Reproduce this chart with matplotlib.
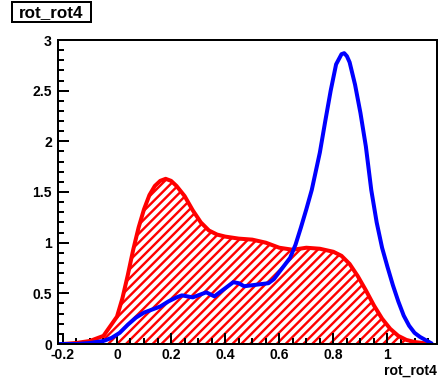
"""ROOT-style overlay of two smoothed distributions of rot_rot4."""

import matplotlib
matplotlib.use("Agg")
import matplotlib.pyplot as plt
from matplotlib.patches import Rectangle
from matplotlib.ticker import MultipleLocator

# red (hatched) distribution
red_x = [-0.20, -0.15, -0.10, -0.05, 0.00, 0.02, 0.04, 0.06, 0.08, 0.10, 0.12, 0.14, 0.16,
         0.18, 0.20, 0.22, 0.25, 0.28, 0.31, 0.34, 0.37, 0.40, 0.45, 0.50, 0.55, 0.60,
         0.65, 0.70, 0.75, 0.80, 0.83, 0.86, 0.89, 0.92, 0.95, 0.98, 1.01, 1.04, 1.07,
         1.10, 1.13, 1.16]
red_y = [0.00, 0.01, 0.03, 0.08, 0.27, 0.45, 0.68, 0.93, 1.15, 1.33, 1.47, 1.56, 1.61,
         1.63, 1.61, 1.56, 1.46, 1.32, 1.20, 1.12, 1.08, 1.06, 1.04, 1.03, 1.00, 0.95,
         0.93, 0.95, 0.94, 0.91, 0.87, 0.79, 0.67, 0.53, 0.38, 0.25, 0.15, 0.08, 0.04,
         0.02, 0.01, 0.00]

# blue distribution
blue_x = [-0.21, -0.15, -0.10, -0.05, -0.02, 0.01, 0.04, 0.07, 0.10, 0.13, 0.16, 0.19, 0.22,
          0.24, 0.26, 0.28, 0.31, 0.33, 0.36, 0.38, 0.40, 0.43, 0.45, 0.47, 0.50, 0.53,
          0.56, 0.58, 0.60, 0.62, 0.64, 0.66, 0.68, 0.70, 0.72, 0.75, 0.77, 0.79, 0.81,
          0.83, 0.84, 0.85, 0.86, 0.88, 0.90, 0.92, 0.94, 0.96, 0.98, 1.00, 1.02, 1.04,
          1.06, 1.08, 1.10, 1.12, 1.14, 1.16]
blue_y = [0.00, 0.00, 0.01, 0.03, 0.06, 0.11, 0.19, 0.26, 0.31, 0.34, 0.37, 0.42, 0.46,
          0.48, 0.47, 0.46, 0.49, 0.51, 0.47, 0.51, 0.55, 0.61, 0.60, 0.57, 0.58, 0.59,
          0.60, 0.64, 0.71, 0.78, 0.85, 0.98, 1.15, 1.33, 1.52, 1.89, 2.20, 2.50, 2.76,
          2.86, 2.87, 2.84, 2.78, 2.56, 2.28, 1.95, 1.52, 1.20, 0.95, 0.76, 0.58, 0.42,
          0.28, 0.18, 0.11, 0.07, 0.04, 0.01]

title = "rot_rot4"
xlabel = "rot_rot4"

DPI = 133
W, H = 443, 382
plt.rcParams["font.family"] = ["Liberation Sans", "DejaVu Sans"]
plt.rcParams["font.weight"] = "bold"
plt.rcParams["hatch.linewidth"] = 1.3
plt.rcParams["hatch.color"] = "#ff0000"

px = 72.0 / DPI  # one pixel in points

fig = plt.figure(figsize=(W / DPI, H / DPI), dpi=DPI)
ax = fig.add_axes([58 / W, 1 - 344 / H, (437 - 58) / W, (344 - 40) / H])

ax.fill_between(red_x, red_y, 0, facecolor="none", edgecolor="#ff0000", hatch="/////", linewidth=0)
ax.plot(red_x, red_y, color="#ff0000", lw=4 * px, solid_joinstyle="round")
ax.plot(blue_x, blue_y, color="#0000ff", lw=4 * px, solid_joinstyle="round")

ax.set_xlim(-0.218, 1.183)
ax.set_ylim(0, 3)
ax.xaxis.set_major_locator(MultipleLocator(0.2))
ax.xaxis.set_minor_locator(MultipleLocator(0.05))
ax.yaxis.set_major_locator(MultipleLocator(0.5))
ax.yaxis.set_minor_locator(MultipleLocator(0.1))
ax.xaxis.set_major_formatter(plt.FuncFormatter(lambda v, p: f"{v:g}" if abs(v) > 1e-9 else "0"))
ax.yaxis.set_major_formatter(plt.FuncFormatter(lambda v, p: f"{v:g}" if abs(v) > 1e-9 else "0"))

ax.tick_params(which="both", direction="in", top=False, right=False, width=2 * px,
               labelsize=7.6, color="black")
ax.tick_params(which="major", length=11 * px)
ax.tick_params(which="minor", length=6 * px)
ax.tick_params(axis="x", pad=4 * px)
ax.tick_params(axis="y", pad=6 * px)
for spine in ax.spines.values():
    spine.set_linewidth(2 * px)

fig.text(437 / W, 1 - 371 / H, xlabel, ha="right", va="center", fontsize=7.6, fontweight="bold")

# title box, ROOT style
fig.patches.append(Rectangle((12 / W, 1 - 22 / H), 79 / W, 20 / H, transform=fig.transFigure,
                             facecolor="white", edgecolor="black", linewidth=2 * px))
fig.text(51.5 / W, 1 - 12.5 / H, title, ha="center", va="center", fontsize=9.2, fontweight="bold")

fig.savefig("out.png", dpi=DPI)
